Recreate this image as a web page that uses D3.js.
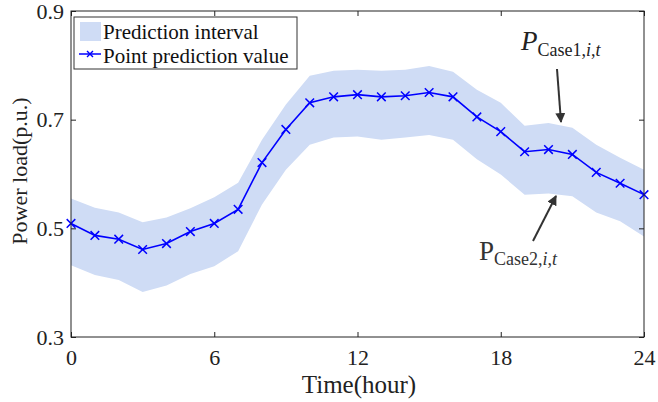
<!DOCTYPE html>
<html>
<head>
<meta charset="utf-8">
<script src="https://cdn.jsdelivr.net/npm/d3@7"></script>
<style>
  body { margin: 0; background: #fff; }
  text { font-family: "Liberation Serif", "Times New Roman", serif; }
</style>
</head>
<body>
<svg></svg>
<script>
const width = 658;
const height = 402;

// hours 0..24
const hours = d3.range(0, 25);
const pointValues = [0.509, 0.487, 0.480, 0.461, 0.472, 0.494, 0.509, 0.535, 0.621, 0.682,
  0.731, 0.742, 0.746, 0.742, 0.744, 0.750, 0.742, 0.705, 0.678, 0.641,
  0.645, 0.636, 0.603, 0.583, 0.562];
const upperValues = [0.555, 0.538, 0.529, 0.511, 0.520, 0.537, 0.557, 0.584, 0.663, 0.728,
  0.781, 0.790, 0.792, 0.790, 0.792, 0.799, 0.788, 0.755, 0.731, 0.689,
  0.694, 0.685, 0.654, 0.630, 0.608];
const lowerValues = [0.432, 0.414, 0.405, 0.383, 0.395, 0.416, 0.430, 0.458, 0.544, 0.608,
  0.654, 0.667, 0.669, 0.663, 0.667, 0.672, 0.663, 0.627, 0.599, 0.562,
  0.564, 0.559, 0.529, 0.513, 0.485];
const xTicks = [0, 6, 12, 18, 24];
const yTicks = [0.3, 0.5, 0.7, 0.9];
const legendLabels = ['Prediction interval', 'Point prediction value'];

const margin = { top: 11, right: 14, bottom: 65, left: 71 };
const iw = width - margin.left - margin.right;
const ih = height - margin.top - margin.bottom;

const x = d3.scaleLinear().domain([0, 24]).range([0, iw]);
const y = d3.scaleLinear().domain([0.3, 0.9]).range([ih, 0]);

const svg = d3.select('svg').attr('width', width).attr('height', height);
const g = svg.append('g').attr('transform', `translate(${margin.left},${margin.top})`);

const data = hours.map((h, i) => ({ h, p: pointValues[i], hi: upperValues[i], lo: lowerValues[i] }));

// band
g.append('path')
  .datum(data)
  .attr('fill', '#cfdcf5')
  .attr('d', d3.area().x(d => x(d.h)).y0(d => y(d.lo)).y1(d => y(d.hi)));

// line
g.append('path')
  .datum(data)
  .attr('fill', 'none')
  .attr('stroke', '#0000ff')
  .attr('stroke-width', 1.6)
  .attr('d', d3.line().x(d => x(d.h)).y(d => y(d.p)));

const cross = d3.symbol().type(d3.symbolX).size(50);
g.selectAll('.mk')
  .data(data)
  .join('path')
  .attr('class', 'mk')
  .attr('transform', d => `translate(${x(d.h)},${y(d.p)})`)
  .attr('d', cross)
  .attr('stroke', '#0000ff')
  .attr('stroke-width', 1.5)
  .attr('fill', 'none');

// axes (inward ticks, box)
const tickLen = 5;
g.append('g').attr('transform', `translate(0,${ih})`)
  .call(d3.axisBottom(x).tickValues(xTicks).tickSizeInner(-tickLen).tickSizeOuter(0).tickPadding(12))
  .call(a => a.select('.domain').remove())
  .call(a => a.selectAll('text').attr('font-size', 22).attr('fill', '#222'));
g.append('g')
  .call(d3.axisTop(x).tickValues(xTicks).tickSizeInner(-tickLen).tickSizeOuter(0).tickFormat(''))
  .call(a => a.select('.domain').remove());
g.append('g')
  .call(d3.axisLeft(y).tickValues(yTicks).tickSizeInner(-tickLen).tickSizeOuter(0).tickPadding(7).tickFormat(d3.format('.1f')))
  .call(a => a.select('.domain').remove())
  .call(a => a.selectAll('text').attr('font-size', 22).attr('fill', '#222'));
g.append('g').attr('transform', `translate(${iw},0)`)
  .call(d3.axisRight(y).tickValues(yTicks).tickSizeInner(-tickLen).tickSizeOuter(0).tickFormat(''))
  .call(a => a.select('.domain').remove());
g.selectAll('.tick line').attr('stroke', '#222');

g.append('rect')
  .attr('width', iw).attr('height', ih)
  .attr('fill', 'none').attr('stroke', '#222').attr('stroke-width', 1);

// axis titles
svg.append('text')
  .attr('x', 359).attr('y', 393)
  .attr('text-anchor', 'middle').attr('font-size', 25).attr('fill', '#222')
  .text('Time(hour)');
svg.append('text')
  .attr('transform', `translate(27,171) rotate(-90)`)
  .attr('text-anchor', 'middle').attr('font-size', 22).attr('fill', '#222')
  .text('Power load(p.u.)');

// legend
const lg = svg.append('g');
lg.append('rect').attr('x', 74).attr('y', 17).attr('width', 223).attr('height', 52)
  .attr('fill', '#fff').attr('stroke', '#333').attr('stroke-width', 1);
lg.append('rect').attr('x', 80).attr('y', 22).attr('width', 21).attr('height', 19).attr('fill', '#cfdcf5');
lg.append('line').attr('x1', 79).attr('x2', 101).attr('y1', 54).attr('y2', 54)
  .attr('stroke', '#0000ff').attr('stroke-width', 1.5);
lg.append('path').attr('transform', 'translate(90,54)').attr('d', d3.symbol().type(d3.symbolX).size(25))
  .attr('stroke', '#0000ff').attr('stroke-width', 1.4).attr('fill', 'none');
lg.selectAll('.lt')
  .data(legendLabels)
  .join('text')
  .attr('class', 'lt')
  .attr('x', 103).attr('y', (d, i) => 39 + i * 24)
  .attr('font-size', 21).attr('fill', '#111')
  .text(d => d);

// annotations
const defs = svg.append('defs');
defs.append('marker').attr('id', 'ah')
  .attr('viewBox', '0 0 10 10').attr('refX', 9).attr('refY', 5)
  .attr('markerWidth', 5).attr('markerHeight', 5).attr('orient', 'auto')
  .append('path').attr('d', 'M0,0L10,5L0,10z').attr('fill', '#333');

svg.append('line').attr('x1', 557).attr('y1', 69).attr('x2', 561).attr('y2', 122)
  .attr('stroke', '#333').attr('stroke-width', 2).attr('marker-end', 'url(#ah)');
svg.append('line').attr('x1', 533).attr('y1', 241).attr('x2', 556).attr('y2', 196)
  .attr('stroke', '#333').attr('stroke-width', 2).attr('marker-end', 'url(#ah)');

const t1 = svg.append('text').attr('x', 521).attr('y', 50).attr('fill', '#222');
t1.append('tspan').attr('font-size', 27).attr('font-style', 'italic').text('P');
t1.append('tspan').attr('font-size', 18).attr('dy', 6).text('Case1,');
t1.append('tspan').attr('font-size', 18).attr('font-style', 'italic').text('i');
t1.append('tspan').attr('font-size', 18).text(',');
t1.append('tspan').attr('font-size', 18).attr('font-style', 'italic').text('t');

const t2 = svg.append('text').attr('x', 479).attr('y', 260).attr('fill', '#333');
t2.append('tspan').attr('font-size', 27).text('P');
t2.append('tspan').attr('font-size', 18).attr('dy', 5).text('Case2,');
t2.append('tspan').attr('font-size', 18).attr('font-style', 'italic').text('i');
t2.append('tspan').attr('font-size', 18).text(',');
t2.append('tspan').attr('font-size', 18).attr('font-style', 'italic').text('t');
</script>
</body>
</html>
